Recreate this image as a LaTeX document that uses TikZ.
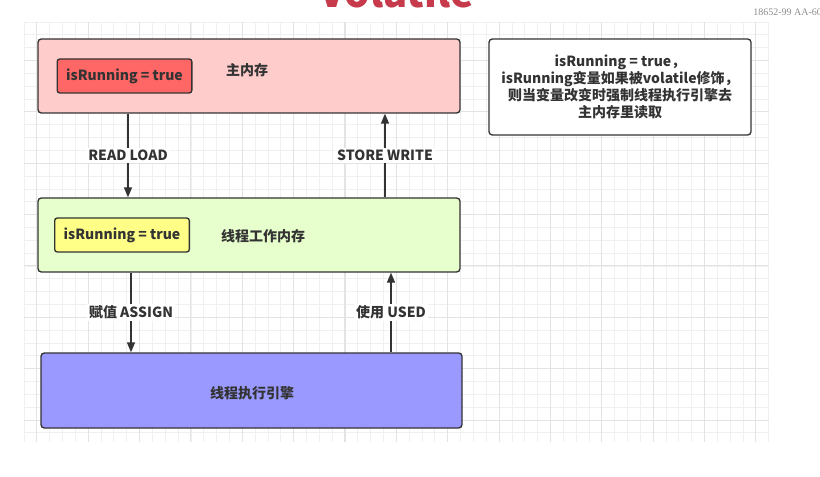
\documentclass[tikz,border=0pt]{standalone}
\usepackage{fontspec}
\setmainfont{Noto Sans CJK SC}
\newfontfamily\wmfont{Liberation Serif}
\usetikzlibrary{arrows.meta,positioning}
\definecolor{boxline}{HTML}{333333}
\definecolor{mainpink}{HTML}{FFCCCC}
\definecolor{varred}{HTML}{FF6666}
\definecolor{workgreen}{HTML}{E6FFCC}
\definecolor{varyellow}{HTML}{FFFF88}
\definecolor{engineblue}{HTML}{9999FF}
\definecolor{titlered}{HTML}{C63A4B}

\begin{document}
\begin{tikzpicture}[x=0.75pt,y=-0.75pt,
  gridminor/.style={draw=black!6,line width=0.6pt},
  gridmajor/.style={draw=black!11,line width=0.8pt},
  area/.style={draw=boxline,line width=1pt,rounded corners=2.5pt,inner sep=0pt,
    minimum width=316.5pt,minimum height=55.5pt},
  varbox/.style={draw=boxline,line width=1pt,rounded corners=2pt,inner sep=0pt,
    minimum width=101pt,minimum height=25.5pt,font=\bfseries\fontsize{10.5}{12}\selectfont,text=boxline},
  tag/.style={font=\bfseries\fontsize{10.5}{12}\selectfont,text=boxline},
  flow/.style={draw=boxline,line width=1pt,-{Triangle[length=7.5pt,width=6pt]}},
  lbl/.style={fill=white,inner sep=1.5pt,font=\bfseries\fontsize{10.5}{12}\selectfont,text=boxline}]
  \useasboundingbox (0,0) rectangle (820,477);
  % background grid
  \begin{scope}
    \clip (24,22) rectangle (769,442);
    \foreach \i in {0,...,58}
      \draw[gridminor] ({24+\i*12.84},22) -- ({24+\i*12.84},442);
    \foreach \j in {0,...,33}
      \draw[gridminor] (24,{22+\j*12.84}) -- (769,{22+\j*12.84});
    \foreach \i in {1,5,...,57}
      \draw[gridmajor] ({24+\i*12.84},22) -- ({24+\i*12.84},442);
    \foreach \j in {3,7,...,31}
      \draw[gridmajor] (24,{22+\j*12.84}) -- (769,{22+\j*12.84});
  \end{scope}
  % title and mark, cut off by the page
  \node[anchor=base,text=titlered,font=\bfseries\fontsize{30}{30}\selectfont,inner sep=0pt]
    (title) at (397,8) {Volatile};
  \node[anchor=west,text=black!45,font=\wmfont\fontsize{7.5}{8}\selectfont,inner sep=0pt]
    (mark) at (753,12) {18652-99 AA-60};
  % memory areas
  \node[area,fill=mainpink] (mainmem) at (249,76) {};
  \node[varbox,fill=varred] (mainvar) at (124.5,76) {isRunning = true};
  \node[tag] (maintxt) at (247,70) {主内存};
  \node[area,fill=workgreen] (workmem) at (249,235) {};
  \node[varbox,fill=varyellow] (workvar) at (122,235) {isRunning = true};
  \node[tag] (worktxt) at (263,236) {线程工作内存};
  \node[area,fill=engineblue,minimum width=315.75pt,minimum height=56.25pt] (engine) at (251.5,390.5) {};
  \node[tag] (enginetxt) at (252,393) {线程执行引擎};
  % note
  \node[draw=boxline,line width=1pt,rounded corners=2.5pt,fill=white,inner sep=0pt,
    minimum width=196.5pt,minimum height=72pt,align=center,
    font=\bfseries\fontsize{10.5}{12.75}\selectfont,text=boxline] (note) at (620,87)
    {isRunning = true，\\isRunning变量如果被volatile修饰，\\则当变量改变时强制线程执行引擎去\\主内存里读取};
  % transfers
  \coordinate (readx) at (128,0);
  \coordinate (storex) at (385,0);
  \coordinate (assignx) at (131,0);
  \coordinate (usedx) at (391,0);
  \draw[flow] (readx |- mainmem.south) -- (readx |- workmem.north) node[midway,lbl] {READ LOAD};
  \draw[flow] (storex |- workmem.north) -- (storex |- mainmem.south) node[midway,lbl] {STORE WRITE};
  \draw[flow] (assignx |- workmem.south) -- (assignx |- engine.north) node[midway,lbl] {赋值 ASSIGN};
  \draw[flow] (usedx |- engine.north) -- (usedx |- workmem.south) node[midway,lbl] {使用 USED};
\end{tikzpicture}
\end{document}
